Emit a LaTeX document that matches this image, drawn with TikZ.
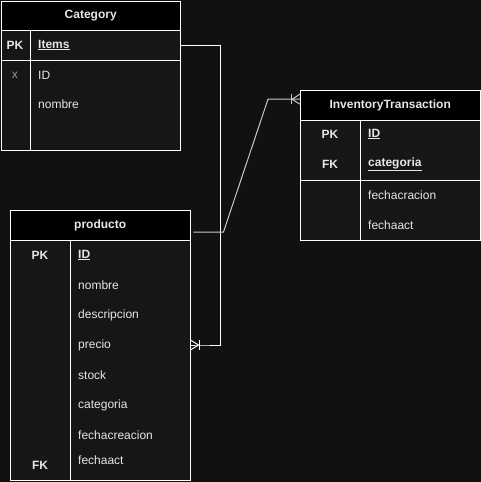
\documentclass[tikz,border=0pt]{standalone}
\usepackage{fontspec}
\setmainfont{Liberation Sans}
\usepackage{tikz}
\usetikzlibrary{positioning}
\usetikzlibrary{calc}
\definecolor{bgdark}{HTML}{111111}
\definecolor{tblfill}{HTML}{161616}
\definecolor{txtgray}{HTML}{E6E6E6}
\definecolor{linkgray}{HTML}{C8C8C8}
\newcommand{\tblfont}{\fontsize{12}{14}\selectfont}
\tikzstyle{tblhead}=[draw=white,fill=black,text=txtgray,font=\tblfont\bfseries,anchor=north west,inner sep=0pt]
\tikzstyle{tblbody}=[draw=white,fill=tblfill,anchor=north west,inner sep=0pt]
\tikzstyle{field}=[text=txtgray,font=\tblfont,anchor=west,inner sep=0pt]
\tikzstyle{keyfield}=[field,font=\tblfont\bfseries]
\tikzstyle{keycol}=[text=txtgray,font=\tblfont\bfseries,inner sep=0pt]
\tikzstyle{link}=[draw=white,line width=1pt]

\begin{document}
\begin{tikzpicture}[x=1pt,y=-1pt]
\fill[bgdark] (0,0) rectangle (481,482);
\useasboundingbox (0,0) rectangle (481,482);

% Category
\node [tblbody,minimum width=179pt,minimum height=120pt] (catbody) at (1,30) {};
\node [tblhead,minimum width=179pt,minimum height=29pt] (cathead) at (1,1) {Category};
\draw [white] (catbody.west |- 0,60) -- (catbody.east |- 0,60);
\draw [white] (30,30) -- (30,150);
\node [keycol] (catpk) at (15,45) {PK};
\node [keycol,font=\tblfont,text=gray!80] (catx) at (15,75) {x};
\node [keyfield] (catItems) at (38,45) {\underline{Items}};
\node [field] (catID) at (38,75) {ID};
\node [field] (catNombre) at (38,104) {nombre};

% producto
\node [tblbody,minimum width=180pt,minimum height=240pt] (prodbody) at (10,240) {};
\node [tblhead,minimum width=180pt,minimum height=30pt] (prodhead) at (10,210) {producto};
\draw [white] (70,240) -- (70,480);
\node [keycol] (prodpk) at (40,255) {PK};
\node [keycol] (prodfk) at (40,465) {FK};
\node [keyfield] (prodID) at (78,255) {\underline{ID}};
\node [field] (prodNombre) at (78,285) {nombre};
\node [field] (prodDesc) at (78,315) {descripcion};
\node [field] (prodPrecio) at (78,345) {precio};
\node [field] (prodStock) at (78,375) {stock};
\node [field] (prodCat) at (78,405) {categoria};
\node [field] (prodFcrea) at (78,435) {fechacreacion};
\node [field] (prodFact) at (78,460) {fechaact};

% InventoryTransaction
\node [tblbody,minimum width=180pt,minimum height=120pt] (invbody) at (300,120) {};
\node [tblhead,minimum width=180pt,minimum height=30pt] (invhead) at (300,90) {InventoryTransaction};
\draw [white] (invbody.west |- 0,180) -- (invbody.east |- 0,180);
\draw [white] (360,120) -- (360,240);
\node [keycol] (invpk) at (330,134) {PK};
\node [keycol] (invfk) at (330,164) {FK};
\node [keyfield] (invID) at (368,134) {\underline{ID}};
\node [keyfield] (invCat) at (368,164) {\underline{categoria}};
\node [field] (invFcrea) at (368,195) {fechacracion};
\node [field] (invFact) at (368,225) {fechaact};

% Category -> producto
\coordinate (A) at (catbody.east |- catItems);
\coordinate (B) at (prodbody.east |- prodPrecio);
\draw [link] (A) -- ++(40,0) |- ($(B)+(9,0)$) -- (B);
\draw [link] ($(B)+(0,-5)$) -- ($(B)+(8,0)$) -- ($(B)+(0,5)$);
\draw [link] ($(B)+(9,-5)$) -- ($(B)+(9,5)$);

% producto -> InventoryTransaction
\coordinate (C) at ([shift={(3pt,-7pt)}]prodhead.east);
\coordinate (D) at ([yshift=6pt]invhead.west);
\draw [link,draw=linkgray] (C) -- ++(30,0) -- ($(D)+(-32,0)$) -- (D);
\draw [link,draw=linkgray] ($(D)+(0,-5)$) -- ($(D)+(-8,0)$) -- ($(D)+(0,5)$);
\draw [link,draw=linkgray] ($(D)+(-9,-5)$) -- ($(D)+(-9,5)$);
\end{tikzpicture}
\end{document}
